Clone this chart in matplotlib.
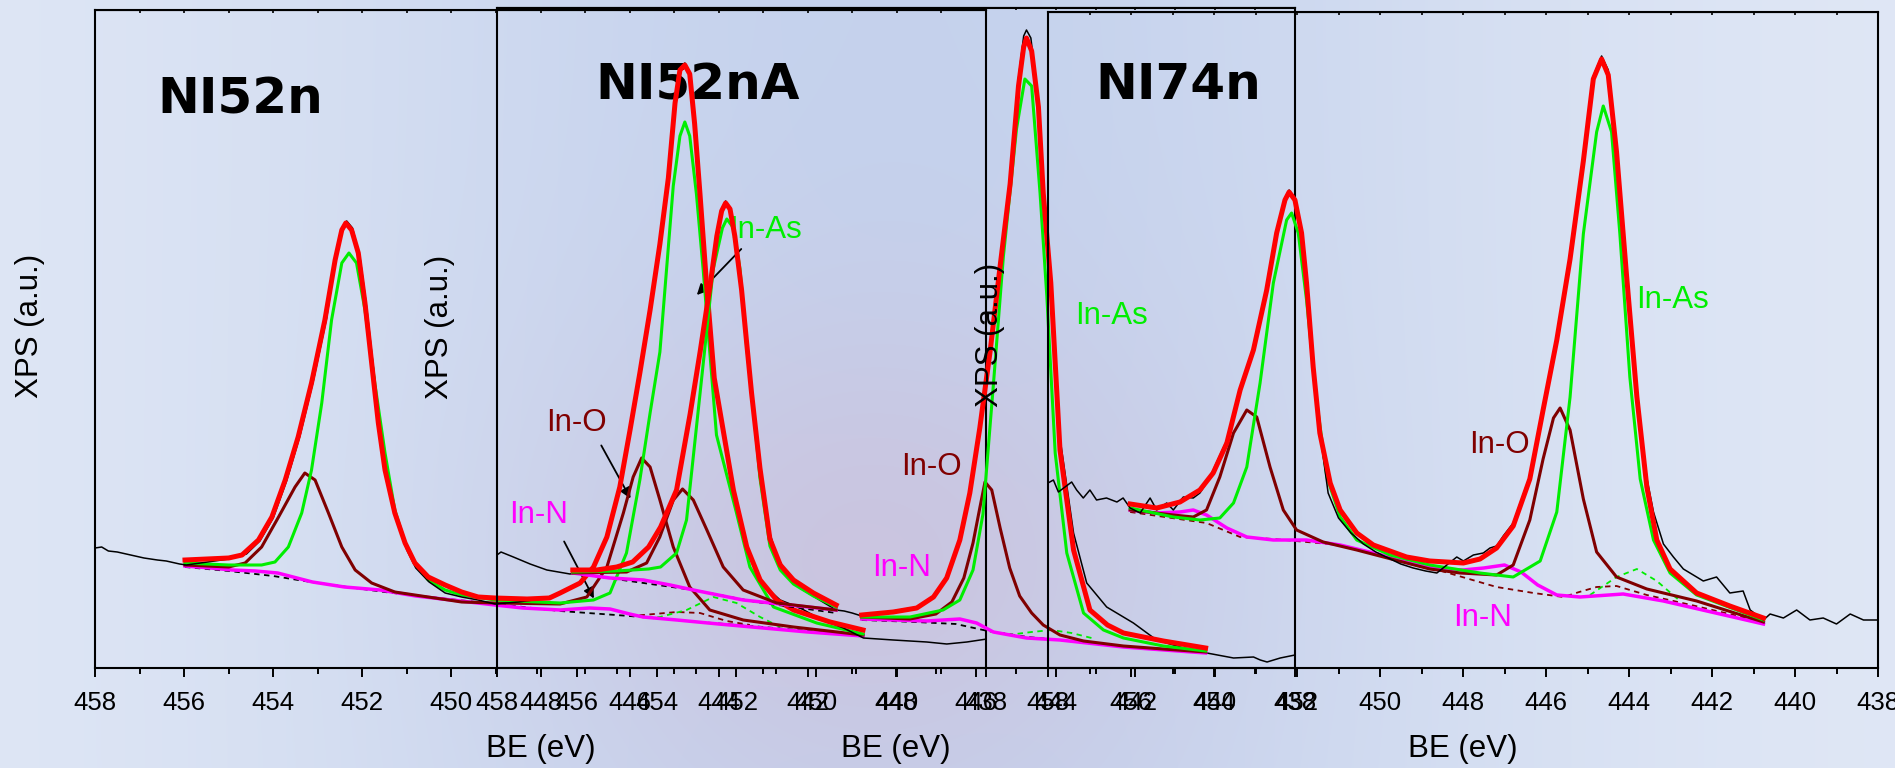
"""
In 3d XPS spectra of NI52n, NI52nA and NI74n with In-As / In-O / In-N fit
components, shown as three overlapping panels on a shaded backdrop.
"""
import numpy as np
import matplotlib.pyplot as plt

plt.rcParams['font.family'] = ['Liberation Sans', 'DejaVu Sans']

RED = '#ff0000'
GREEN = '#00ee00'
BROWN = '#800000'
MAGENTA = '#ff00ff'

BE_TICKS = [458, 456, 454, 452, 450, 448, 446, 444, 442, 440, 438]
BE_MINOR = [457, 455, 453, 451, 449, 447, 445, 443, 441, 439]

# ---------------- NI52n  (binding energy eV, intensity a.u.)
a_raw = np.array([
    [458.0, 120], [457.85, 121], [457.7, 117], [457.5, 116], [457.2, 113], [456.9, 110],
    [456.6, 108], [456.4, 107], [456.1, 104], [455.95, 103], [455.0, 109], [454.6, 114],
    [454.3, 127], [454.0, 150], [453.7, 187], [453.4, 232], [453.1, 287], [452.8, 350],
    [452.6, 410], [452.45, 440], [452.35, 447], [452.22, 440], [452.05, 410], [451.9, 360],
    [451.75, 300], [451.6, 238], [451.45, 190], [451.25, 150], [451.0, 118], [450.8, 100],
    [450.5, 86], [450.14, 75], [449.77, 71], [449.4, 68], [449.02, 64], [448.5, 66],
    [448.0, 69], [447.5, 75], [447.1, 86], [446.8, 102], [446.5, 132], [446.2, 183],
    [446.0, 238], [445.77, 296], [445.54, 360], [445.32, 425], [445.13, 492], [444.98, 566],
    [444.87, 600], [444.76, 605], [444.65, 596], [444.54, 546], [444.42, 476], [444.27, 384],
    [444.1, 290], [443.7, 180], [443.37, 118], [443.07, 86], [442.62, 68], [442.17, 60],
    [441.72, 49], [441.2, 40], [440.75, 30], [440.08, 28], [439.33, 26], [438.88, 24],
    [438.43, 26], [437.98, 29]])
a_env = np.array([
    [455.98, 108], [455.0, 110], [454.7, 113], [454.33, 128], [454.03, 151], [453.73, 188],
    [453.44, 231], [453.14, 285], [452.84, 348], [452.61, 408], [452.46, 438], [452.37, 445],
    [452.24, 438], [452.09, 415], [451.94, 365], [451.79, 305], [451.64, 245], [451.49, 198],
    [451.27, 155], [451.04, 125], [450.82, 105], [450.52, 91], [450.14, 83], [449.77, 76],
    [449.4, 71], [449.02, 70], [448.3, 69], [447.8, 70], [447.56, 75], [447.11, 85],
    [446.81, 101], [446.51, 131], [446.22, 181], [445.99, 238], [445.77, 295], [445.54, 358],
    [445.32, 424], [445.13, 490], [444.98, 565], [444.87, 598], [444.76, 603], [444.65, 594],
    [444.54, 544], [444.42, 474], [444.27, 382], [444.1, 290], [443.67, 178], [443.37, 121],
    [443.07, 88], [442.7, 68], [442.32, 58], [441.5, 46], [440.76, 38]])
a_inas = np.array([
    [455.98, 105], [455.0, 103], [454.26, 103], [453.96, 106], [453.66, 121], [453.36, 155],
    [453.14, 198], [452.91, 265], [452.69, 348], [452.46, 405], [452.3, 415], [452.13, 405],
    [451.94, 358], [451.72, 285], [451.49, 215], [451.27, 158], [451.04, 125], [450.82, 105],
    [450.52, 88], [450.14, 78], [449.77, 73], [449.02, 68], [447.56, 65], [446.81, 68],
    [446.44, 75], [446.07, 115], [445.77, 188], [445.54, 255], [445.32, 316], [445.17, 399],
    [445.02, 482], [444.87, 532], [444.76, 546], [444.65, 532], [444.5, 474], [444.35, 399],
    [444.2, 316], [444.05, 233], [443.6, 155], [443.3, 101], [442.77, 61], [441.8, 45],
    [440.76, 34]])
a_ino = np.array([
    [455.98, 103], [455.0, 101], [454.63, 105], [454.26, 121], [453.88, 151], [453.51, 181],
    [453.29, 195], [453.06, 188], [452.76, 155], [452.46, 121], [452.16, 98], [451.79, 85],
    [451.27, 76], [450.52, 71], [449.77, 66], [449.02, 65], [447.56, 64], [446.96, 71],
    [446.51, 101], [446.14, 155], [445.92, 191], [445.73, 210], [445.54, 201], [445.32, 168],
    [445.02, 121], [444.65, 81], [444.2, 58], [443.45, 48], [442.32, 41], [440.76, 33]])
a_inn = np.array([
    [455.98, 102], [455.4, 100], [454.92, 98], [454.4, 97], [453.9, 95], [453.12, 86],
    [452.4, 81], [451.6, 78], [450.8, 72], [449.8, 67], [449.02, 63], [448.4, 60],
    [447.56, 58], [446.9, 60], [446.44, 59], [446.0, 54], [445.7, 51], [444.94, 48],
    [444.0, 44], [443.0, 40], [442.0, 36], [440.76, 32]])
a_bg = np.array([
    [455.98, 101], [455.0, 97], [454.0, 92], [453.3, 87], [452.5, 82], [451.5, 76],
    [450.5, 71], [449.0, 64], [447.56, 57], [446.0, 52], [445.0, 48], [443.0, 41],
    [440.76, 32]])
a_sat_green = np.array([[445.6, 50], [445.32, 51], [444.72, 58], [444.12, 71], [443.6, 65],
                        [443.07, 51], [442.62, 41]])
a_sat_brown = np.array([[446.0, 52], [445.7, 53], [444.94, 56], [444.42, 55], [443.82, 47],
                        [443.3, 43]])

# ---------------- NI52nA
b_raw = np.array([
    [458.0, 113], [457.9, 116], [457.59, 111], [457.17, 104], [456.75, 98], [456.17, 94],
    [455.5, 99], [455.0, 101], [454.6, 107], [454.2, 120], [453.9, 142], [453.5, 180],
    [453.16, 256], [452.91, 318], [452.66, 384], [452.49, 434], [452.37, 458], [452.27, 467],
    [452.16, 460], [452.04, 433], [451.87, 380], [451.74, 326], [451.62, 275], [451.41, 188],
    [451.2, 140], [450.99, 112], [450.7, 92], [450.41, 80], [450.0, 70], [449.5, 58],
    [449.3, 57], [449.1, 55], [448.86, 52], [448.07, 57], [447.48, 61], [447.06, 72],
    [446.73, 92], [446.4, 130], [446.15, 176], [445.9, 242], [445.64, 318], [445.39, 403],
    [445.14, 486], [444.93, 590], [444.8, 632], [444.73, 638], [444.62, 630], [444.5, 590],
    [444.31, 485], [444.12, 390], [443.89, 230], [443.55, 135], [443.22, 85], [442.72, 61],
    [442.05, 45], [441.47, 28], [440.8, 20], [440.21, 15], [439.54, 10], [439.04, 11],
    [438.87, 8], [438.7, 6], [438.37, 10], [438.0, 13]])
b1_env = np.array([
    [456.1, 98], [455.5, 98], [455.0, 101], [454.6, 106], [454.2, 121], [453.9, 141],
    [453.5, 178], [453.16, 254], [452.91, 316], [452.66, 382], [452.49, 432], [452.37, 457],
    [452.27, 465], [452.16, 459], [452.04, 432], [451.87, 378], [451.74, 324], [451.62, 275],
    [451.41, 200], [451.16, 129], [450.9, 103], [450.57, 88], [450.07, 75], [449.5, 63]])
b1_inas = np.array([
    [456.1, 96], [455.0, 97], [454.2, 99], [453.9, 101], [453.5, 115], [453.25, 148],
    [452.91, 275], [452.58, 399], [452.35, 440], [452.24, 449], [452.07, 440], [451.91, 399],
    [451.74, 320], [451.58, 262], [451.41, 190], [451.16, 122], [450.9, 98], [450.57, 84],
    [450.07, 72], [449.5, 61]])
b1_ino = np.array([
    [456.1, 95], [454.75, 96], [454.25, 105], [453.92, 131], [453.58, 168], [453.35, 179],
    [453.08, 168], [452.74, 138], [452.33, 101], [451.83, 78], [450.99, 65], [449.5, 58]])
b1_inn = np.array([[456.1, 95], [455.17, 90], [454.33, 88], [453.66, 83], [453.08, 78],
                   [451.83, 68], [449.5, 58]])
b1_bg = np.array([[456.1, 95], [454.33, 85], [453.08, 78], [451.5, 66], [449.5, 55]])
b2_env = np.array([
    [448.86, 53], [448.07, 56], [447.48, 60], [447.06, 71], [446.73, 90], [446.4, 128],
    [446.15, 175], [445.9, 240], [445.64, 317], [445.39, 402], [445.14, 484], [444.93, 582],
    [444.8, 621], [444.73, 630], [444.6, 617], [444.43, 561], [444.31, 475], [444.12, 385],
    [443.89, 218], [443.55, 118], [443.14, 58], [442.7, 43], [442.3, 35], [441.3, 27],
    [440.24, 20]])
b2_inas = np.array([
    [448.86, 51], [447.65, 51], [446.82, 58], [446.4, 68], [446.07, 98], [445.82, 154],
    [445.56, 283], [445.31, 411], [444.98, 539], [444.77, 589], [444.6, 582], [444.39, 475],
    [444.22, 372], [444.01, 215], [443.72, 115], [443.3, 55], [442.8, 38], [442.3, 30],
    [441.3, 22], [440.24, 17]])
b2_ino = np.array([
    [448.86, 51], [447.65, 49], [447.0, 54], [446.6, 66], [446.3, 90], [446.07, 125],
    [445.9, 160], [445.77, 186], [445.6, 178], [445.39, 140], [445.15, 100], [444.9, 72],
    [444.6, 55], [444.31, 43], [443.89, 33], [443.3, 27], [442.3, 22], [441.3, 19],
    [440.24, 16]])
b2_inn = np.array([[448.86, 49], [447.23, 47], [446.4, 49], [445.98, 45], [445.56, 36],
                   [444.73, 30], [443.89, 28], [442.3, 21], [440.24, 15]])
b2_bg = np.array([[448.86, 48], [447.5, 46], [446.5, 44], [445.7, 37], [444.7, 31],
                  [443.9, 28], [442.3, 21], [440.24, 15]])
b2_sat_green = np.array([[445.2, 33], [444.6, 36], [444.1, 38], [443.6, 35], [443.1, 30]])

# ---------------- NI74n
d_raw = np.array([
    [458.0, 185], [457.87, 188], [457.75, 176], [457.59, 181], [457.43, 186], [457.31, 178],
    [457.15, 170], [456.99, 178], [456.83, 168], [456.59, 170], [456.34, 166], [456.19, 170],
    [456.02, 160], [455.78, 155], [455.54, 170], [455.38, 158], [455.14, 165], [454.98, 158],
    [454.74, 171], [454.5, 170], [454.34, 175], [454.18, 185], [454.02, 198], [453.69, 228],
    [453.37, 280], [453.05, 320], [452.73, 380], [452.49, 437], [452.29, 470], [452.19, 478],
    [452.05, 470], [451.89, 437], [451.77, 387], [451.61, 303], [451.45, 236], [451.25, 175],
    [451.0, 150], [450.7, 135], [450.4, 124], [450.1, 116], [449.8, 110], [449.5, 104],
    [449.2, 100], [448.9, 97], [448.63, 95], [448.39, 103], [448.15, 111], [447.99, 107],
    [447.75, 113], [447.51, 115], [447.35, 120], [447.19, 122], [447.03, 132], [446.79, 145],
    [446.39, 192], [446.07, 260], [445.74, 330], [445.42, 410], [445.1, 510], [444.86, 592],
    [444.66, 612], [444.5, 598], [444.3, 520], [444.06, 398], [443.81, 276], [443.57, 190],
    [443.41, 156], [443.17, 124], [442.93, 111], [442.69, 99], [442.21, 87], [441.89, 91],
    [441.57, 75], [441.25, 77], [441.08, 58], [440.76, 48], [440.6, 54], [440.28, 50],
    [439.96, 58], [439.64, 48], [439.32, 50], [439.0, 44], [438.67, 54], [438.35, 48],
    [438.0, 48]])
d_env = np.array([
    [456.02, 164], [455.38, 160], [454.82, 166], [454.34, 178], [454.02, 195], [453.69, 225],
    [453.37, 278], [453.05, 318], [452.73, 378], [452.49, 435], [452.29, 468], [452.19, 476],
    [452.05, 468], [451.89, 435], [451.77, 385], [451.61, 301], [451.45, 235], [451.2, 185],
    [450.96, 158], [450.56, 135], [450.16, 123], [449.36, 111], [448.8, 107], [447.99, 105],
    [447.59, 109], [447.19, 120], [446.79, 142], [446.39, 189], [446.07, 258], [445.74, 328],
    [445.42, 409], [445.1, 507], [444.86, 589], [444.66, 609], [444.5, 593], [444.3, 516],
    [444.06, 393], [443.81, 271], [443.57, 181], [443.33, 128], [443.01, 99], [442.37, 75],
    [441.57, 62], [440.76, 50]])
d_inas = np.array([
    [456.02, 160], [454.98, 151], [454.34, 148], [453.86, 150], [453.53, 165], [453.21, 201],
    [452.89, 285], [452.57, 385], [452.25, 448], [452.13, 455], [451.97, 435], [451.77, 368],
    [451.53, 268], [451.28, 191], [450.96, 151], [450.56, 128], [449.76, 113], [448.8, 103],
    [447.59, 95], [446.79, 91], [446.14, 107], [445.74, 156], [445.42, 271], [445.1, 434],
    [444.78, 536], [444.62, 562], [444.42, 536], [444.22, 434], [443.98, 291], [443.73, 189],
    [443.41, 128], [443.01, 95], [442.37, 73], [440.76, 48]])
d_ino = np.array([
    [456.02, 158], [454.98, 153], [454.5, 151], [454.18, 158], [453.86, 191], [453.53, 235],
    [453.21, 258], [452.97, 251], [452.65, 201], [452.33, 158], [452.01, 138], [451.37, 126],
    [450.56, 118], [449.36, 105], [448.8, 99], [448.07, 95], [447.19, 93], [446.79, 103],
    [446.39, 148], [446.07, 209], [445.82, 250], [445.66, 260], [445.42, 238], [445.1, 169],
    [444.78, 116], [444.3, 91], [443.57, 79], [442.37, 67], [440.76, 46]])
d_inn = np.array([
    [456.02, 158], [455.38, 155], [454.82, 156], [454.5, 158], [454.18, 153], [453.69, 140],
    [453.21, 131], [452.57, 128], [451.77, 128], [450.96, 123], [449.76, 111], [448.6, 99],
    [448.0, 98], [447.5, 100], [447.0, 103], [446.6, 96], [446.2, 83], [445.74, 73],
    [445.18, 71], [444.14, 74], [443.17, 67], [440.76, 44]])
d_bg = np.array([
    [456.02, 156], [454.18, 145], [453.37, 131], [452.57, 129], [450.96, 123], [449.5, 108],
    [448.6, 98], [447.19, 81], [446.3, 75], [445.58, 71], [445.2, 76], [444.78, 81],
    [444.3, 82], [443.57, 73], [442.5, 63], [440.76, 46]])
d_sat_green = np.array([[444.94, 73], [444.3, 91], [443.81, 99], [443.33, 87], [442.77, 67]])


def make_background(fig, width, height):
    """Light blue backdrop with a lavender glow in the lower middle."""
    xx, yy = np.meshgrid(np.arange(width), np.arange(height))
    edge = np.array([226, 233, 246]) / 255
    blue = np.array([197, 210, 237]) / 255
    pink = np.array([203, 195, 222]) / 255
    wb = np.exp(-((xx - 900) / 650.0) ** 2)[..., None]
    img = edge * (1 - wb) + blue * wb
    wp = 0.85 * np.exp(-((xx - 870) / 300.0) ** 2 - ((yy - 560) / 250.0) ** 2)[..., None]
    img = img * (1 - wp) + pink * wp
    bg = fig.add_axes([0, 0, 1, 1], zorder=-10)
    bg.imshow(img, aspect='auto', extent=(0, 1, 0, 1), origin='upper')
    bg.axis('off')


def make_panel(fig, box, zorder, fig_w, fig_h):
    """One spectrum panel; box is (left, top, right, bottom) in pixels."""
    left, top, right, bottom = box
    w, h = right - left, bottom - top
    ax = fig.add_axes([left / fig_w, (fig_h - bottom) / fig_h, w / fig_w, h / fig_h],
                      zorder=zorder)
    ax.set_facecolor('none')
    ax.set_xlim(458, 438)
    ax.set_ylim(0, h)
    ax.set_xticks(BE_TICKS)
    ax.set_xticks(BE_MINOR, minor=True)
    ax.set_yticks([])
    ax.tick_params(axis='x', which='major', direction='out', length=6.5, width=1.4,
                   labelsize=18.5, pad=10)
    ax.tick_params(axis='x', which='minor', direction='out', length=4.5, width=1.4)
    for sp in ax.spines.values():
        sp.set_linewidth(1.5)
    top_ax = ax.secondary_xaxis('top')
    top_ax.set_xticks(BE_TICKS + BE_MINOR)
    top_ax.tick_params(direction='in', length=2.5, width=1.2, labeltop=False)
    ax.set_xlabel('BE (eV)', fontsize=22.5)
    ax.xaxis.set_label_coords(0.5, -66.0 / h)
    ax.set_ylabel('XPS (a.u.)', fontsize=22.5)
    return ax


def draw_fit(ax, raw, env, inas, ino, inn, bg, bg_color='k'):
    """Background, components, measured data and the envelope."""
    if bg is not None:
        ax.plot(bg[:, 0], bg[:, 1], color=bg_color, lw=1.3, ls=(0, (3, 2.5)))
    ax.plot(inn[:, 0], inn[:, 1], color=MAGENTA, lw=2.5)
    ax.plot(ino[:, 0], ino[:, 1], color=BROWN, lw=2.2)
    ax.plot(inas[:, 0], inas[:, 1], color=GREEN, lw=2.2)
    if raw is not None:
        ax.plot(raw[:, 0], raw[:, 1], color='k', lw=1.1)
    ax.plot(env[:, 0], env[:, 1], color=RED, lw=3.6)


def dashed(ax, data, color):
    ax.plot(data[:, 0], data[:, 1], color=color, lw=1.3, ls=(0, (3, 2.5)))


def main():
    fig_w, fig_h = 1895, 768
    fig = plt.figure(figsize=(fig_w / 100, fig_h / 100), dpi=100)
    make_background(fig, fig_w, fig_h)

    ax_a = make_panel(fig, (95, 10, 986, 668), 1, fig_w, fig_h)
    ax_b = make_panel(fig, (497, 7.5, 1295, 668), 2, fig_w, fig_h)
    ax_d = make_panel(fig, (1048, 12, 1878, 668), 3, fig_w, fig_h)
    ax_a.yaxis.set_label_coords(-50 / 891, 0.52)
    ax_b.yaxis.set_label_coords(-42 / 798, 0.517)
    ax_d.yaxis.set_label_coords(-43 / 830, 0.508)

    # NI52n
    dashed(ax_a, a_sat_brown, BROWN)
    dashed(ax_a, a_sat_green, GREEN)
    draw_fit(ax_a, a_raw, a_env, a_inas, a_ino, a_inn, a_bg)

    # NI52nA, fitted in two windows
    ax_b.plot(b_raw[:, 0], b_raw[:, 1], color='k', lw=1.1)
    dashed(ax_b, b2_sat_green, GREEN)
    draw_fit(ax_b, None, b1_env, b1_inas, b1_ino, b1_inn, b1_bg)
    draw_fit(ax_b, None, b2_env, b2_inas, b2_ino, b2_inn, b2_bg)

    # NI74n
    dashed(ax_d, d_sat_green, GREEN)
    draw_fit(ax_d, d_raw, d_env, d_inas, d_ino, d_inn, d_bg, bg_color=BROWN)

    # labels sit under every curve, so they are hosted on the lowest panel
    title_kw = dict(fontsize=36, fontweight='bold', family='DejaVu Sans',
                    ha='center', va='center', zorder=1.5)
    ax_a.text(454.75, 568, 'NI52n', transform=ax_a.transData, **title_kw)
    ax_a.text(452.96, 583, 'NI52nA', transform=ax_b.transData, **title_kw)
    ax_a.text(454.87, 583, 'NI74n', transform=ax_d.transData, **title_kw)

    lab_kw = dict(fontsize=22.5, ha='center', va='center', zorder=1.5)
    arrow = dict(arrowstyle='-|>', color='k', lw=1.3, mutation_scale=16)
    b_tr = ax_b.transData
    ax_a.text(456.95, 153, 'In-N', color=MAGENTA, transform=b_tr, **lab_kw)
    ax_a.annotate('', xy=(455.54, 67), xytext=(456.35, 129), xycoords=b_tr,
                  textcoords=b_tr, arrowprops=arrow, zorder=1.5)
    ax_a.text(456.0, 245, 'In-O', color=BROWN, transform=b_tr, **lab_kw)
    ax_a.annotate('', xy=(454.62, 167), xytext=(455.42, 225), xycoords=b_tr,
                  textcoords=b_tr, arrowprops=arrow, zorder=1.5)
    ax_a.text(451.28, 438, 'In-As', color=GREEN, transform=b_tr, **lab_kw)
    ax_a.annotate('', xy=(453.04, 371), xytext=(451.83, 421), xycoords=b_tr,
                  textcoords=b_tr, arrowprops=arrow, zorder=1.5)
    ax_a.text(447.1, 201, 'In-O', color=BROWN, transform=b_tr, **lab_kw)
    ax_a.text(447.87, 100, 'In-N', color=MAGENTA, transform=b_tr, **lab_kw)
    ax_a.text(442.61, 352, 'In-As', color=GREEN, transform=b_tr, **lab_kw)

    d_tr = ax_d.transData
    ax_a.text(442.96, 368, 'In-As', color=GREEN, transform=d_tr, **lab_kw)
    ax_a.text(447.11, 223, 'In-O', color=BROWN, transform=d_tr, **lab_kw)
    ax_a.text(447.52, 50, 'In-N', color=MAGENTA, transform=d_tr, **lab_kw)

    fig.savefig('out.png', dpi=100)


if __name__ == '__main__':
    main()
